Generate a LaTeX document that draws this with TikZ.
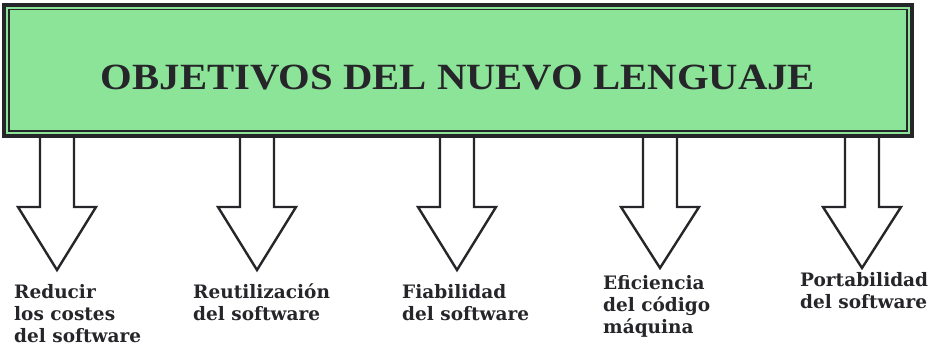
\documentclass[tikz,border=0pt]{standalone}
\usepackage{fontspec}
\setmainfont{DejaVu Serif}
\newfontfamily\bannerfont{Liberation Serif}
\usetikzlibrary{positioning}
\definecolor{boxgreen}{RGB}{140,228,152}
\definecolor{ink}{RGB}{38,38,42}

\begin{document}
\begin{tikzpicture}[x=1pt,y=-1pt,
  frame/.style={draw=ink, line width=4pt, fill=boxgreen, minimum width=908pt, minimum height=131pt, inner sep=0pt},
  goal/.style={anchor=base west, align=left, text=ink, inner sep=0pt, font=\bfseries\fontsize{18.5}{22}\selectfont},
  hollow/.style={draw=ink, line width=2.4pt, line join=miter}]
\fill[white] (0,0) rectangle (941,346);
\useasboundingbox (0,0) rectangle (941,346);
\node[frame] (frame) at (458,70.5) {};
\draw[ink, line width=1.8pt] ([shift={(7,6.5)}]frame.north west) rectangle ([shift={(-7,-7)}]frame.south east);
\node[text=ink, anchor=base, inner sep=0pt, font=\bannerfont\bfseries\fontsize{37}{40}\selectfont] (title) at (458,89) {\scalebox{1.1}[1]{OBJETIVOS DEL NUEVO LENGUAJE}};
% flechas huecas
\foreach \x/\n in {57/1, 257/2, 457/3, 660/4, 862/5}
  \coordinate (stem\n) at (\x,136);
\foreach \n/\h in {1/63, 2/63, 3/63, 4/61, 5/61}
  \draw[hollow] (stem\n) ++(-17,0) -- ++(0,71) -- ++(-22,0) -- ++(39,\h) -- ++(39,-\h) -- ++(-22,0) -- ++(0,-71);
% objetivos (base = ultima linea)
\node[goal] (costes) at (14,342) {Reducir\\los costes\\del software};
\node[goal] (reutil) at (193,320) {Reutilización\\del software};
\node[goal] (fiab) at (402,320) {Fiabilidad\\del software};
\node[goal] (efic) at (603,333) {Eficiencia\\del código\\máquina};
\node[goal] (port) at (800,308) {Portabilidad\\del software};
\end{tikzpicture}
\end{document}
